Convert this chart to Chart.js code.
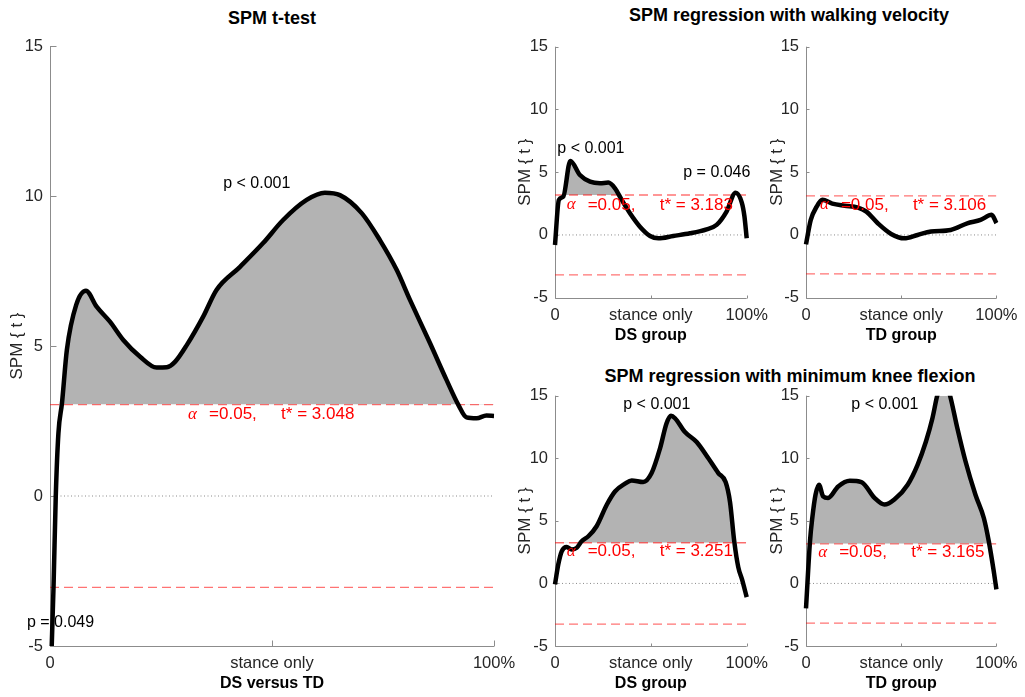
<!DOCTYPE html>
<html>
<head>
<meta charset="utf-8">
<script src="https://cdn.jsdelivr.net/npm/chart.js@4.4.1/dist/chart.umd.min.js"></script>
<style>
  html, body { margin: 0; background: #fff; }
  body { position: relative; width: 1025px; height: 697px; overflow: hidden; font-family: "Liberation Sans", Arial, sans-serif; }
  canvas { position: absolute; }
  .ttl { position: absolute; transform: translate(-50%, -50%); font-weight: bold; font-size: 18px; color: #000; white-space: nowrap; }
</style>
</head>
<body>
<div class="ttl" style="left:272px; top:18px">SPM t-test</div>
<div class="ttl" style="left:789px; top:15px">SPM regression with walking velocity</div>
<div class="ttl" style="left:790px; top:376px">SPM regression with minimum knee flexion</div>
<canvas id="ttest"></canvas>
<canvas id="dsVel"></canvas>
<canvas id="tdVel"></canvas>
<canvas id="dsKnee"></canvas>
<canvas id="tdKnee"></canvas>
<script>
// axis labels
const xTickLabels = ['0', 'stance only', '100%'];
const groupNames = ['DS versus TD', 'DS group', 'TD group', 'DS group', 'TD group'];
const alphaLevel = 0.05;
// critical t per panel
const tCrit = [3.048, 3.183, 3.106, 3.251, 3.165];
// cluster p-values per panel
const pValues = [['p < 0.001', 'p = 0.049'], ['p < 0.001', 'p = 0.046'], [], ['p < 0.001'], ['p < 0.001']];

// SPM{t} trajectories, x in % stance
const ttestX = [0.3, 0.8, 1.3, 1.9, 2.7, 3.8, 5.9, 8.1, 10.5, 13.5, 16.5, 20.3, 24.0, 26.3, 28.2, 30.8, 34.5, 37.5, 42.8, 48.0, 52.5, 57.8, 61.9, 65.3, 70.2, 74.3, 78.1, 81.1, 85.6, 89.3, 92.0, 93.8, 96.1, 98.3, 100];
const ttestT = [-5.4, -3.0, 0.0, 2.1, 3.1, 4.87, 6.37, 6.84, 6.31, 5.81, 5.2, 4.64, 4.28, 4.29, 4.48, 5.03, 5.98, 6.87, 7.64, 8.43, 9.2, 9.87, 10.11, 10.03, 9.43, 8.53, 7.53, 6.53, 5.09, 3.87, 3.03, 2.62, 2.59, 2.68, 2.67];

const dsVelX = [0, 2.0, 4.3, 8.0, 13.0, 18.3, 23.5, 27.8, 31.3, 34.8, 39.1, 44.3, 49.6, 53.9, 61.7, 70.4, 79.1, 84.3, 89.5, 94.2, 97.4, 98.8, 100];
const dsVelT = [-0.8, 2.79, 3.05, 5.9, 4.78, 4.25, 4.12, 4.17, 3.72, 2.79, 1.73, 0.66, -0.08, -0.27, -0.08, 0.13, 0.45, 0.8, 1.86, 3.37, 2.6, 1.5, -0.27];

const tdVelX = [0, 2.5, 5.6, 8.6, 13.8, 20.3, 27.3, 31.7, 37.7, 44.7, 51.6, 58.6, 65.6, 76.0, 84.7, 91.7, 97.5, 100];
const tdVelT = [-0.75, 1.2, 2.25, 2.8, 2.5, 2.33, 2.18, 1.86, 0.93, 0.08, -0.27, 0.0, 0.27, 0.4, 0.93, 1.2, 1.6, 0.95];

const dsKneeX = [0, 1.7, 3.5, 6.1, 8.7, 11.3, 13.9, 17.4, 21.7, 27.0, 31.3, 36.5, 40.0, 46.0, 50.4, 54.8, 58.2, 60.5, 62.6, 67.8, 73.9, 80.0, 85.2, 89.0, 91.3, 93.5, 95.6, 97.6, 100];
const dsKneeT = [-0.08, 1.51, 2.57, 2.92, 2.71, 2.84, 3.37, 3.77, 4.57, 6.29, 7.35, 7.97, 8.23, 8.1, 8.82, 10.8, 12.8, 13.4, 13.2, 12.1, 11.3, 10.0, 8.82, 8.1, 6.5, 3.37, 1.3, 0.3, -1.1];

const tdKneeX = [0, 2.1, 3.3, 5.0, 6.8, 9.0, 11.6, 16.9, 23.0, 29.1, 36.0, 41.2, 46.4, 53.4, 58.6, 63.0, 66.4, 69.0, 72.5, 76.0, 79.5, 83.8, 89.0, 93.4, 96.0, 98.6, 100];
const tdKneeT = [-2.0, 3.37, 5.23, 7.09, 7.89, 6.96, 6.83, 7.75, 8.2, 8.1, 6.83, 6.3, 6.7, 7.89, 9.48, 11.34, 13.2, 15.06, 16.6, 14.8, 12.4, 9.74, 7.09, 5.23, 3.37, 0.98, -0.48];

const sans = '"Liberation Sans", Arial, sans-serif';

// MATLAB-style box-off axes with inward ticks
const spmAxes = {
  id: 'spmAxes',
  beforeDatasetsDraw(chart, args, opts) {
    const { ctx, chartArea: a, scales: { x, y } } = chart;
    ctx.save();
    ctx.strokeStyle = '#8c8c8c';
    ctx.lineWidth = 1;
    ctx.beginPath();
    const l = Math.round(a.left) + 0.5, b = Math.round(a.bottom) + 0.5;
    ctx.moveTo(l, a.top);
    ctx.lineTo(l, b);
    ctx.lineTo(a.right, b);
    y.ticks.forEach(t => {
      const py = Math.round(y.getPixelForValue(t.value)) + 0.5;
      ctx.moveTo(l, py); ctx.lineTo(l + opts.len, py);
    });
    x.ticks.forEach(t => {
      const px = Math.round(x.getPixelForValue(t.value)) + 0.5;
      ctx.moveTo(px, b); ctx.lineTo(px, b - opts.len);
    });
    ctx.stroke();
    ctx.restore();
  }
};

// p-values and threshold text
const spmNotes = {
  id: 'spmNotes',
  afterDatasetsDraw(chart, args, opts) {
    const { ctx, scales: { x, y } } = chart;
    ctx.save();
    ctx.textAlign = 'left';
    ctx.textBaseline = 'middle';
    ctx.fillStyle = '#000';
    ctx.font = '16px ' + sans;
    opts.p.forEach(n => ctx.fillText(n.text, x.getPixelForValue(n.at[0]), y.getPixelForValue(n.at[1])));
    const ax = x.getPixelForValue(opts.alpha[0]);
    const ay = y.getPixelForValue(opts.alpha[1]);
    ctx.fillStyle = '#ff0000';
    ctx.font = 'italic 17px "Liberation Serif", serif';
    ctx.fillText('\u03B1', ax, ay);
    ctx.font = '17px ' + sans;
    ctx.fillText('=' + alphaLevel.toFixed(2) + ',', ax + 21, ay);
    ctx.fillText('t* = ' + opts.t.toFixed(3), ax + 93, ay);
    ctx.restore();
  }
};

const panels = [
  { id: 'ttest', box: [0, 0, 525, 697], area: [50, 46, 494, 646], xs: ttestX, ts: ttestT, tick: 6, ytPad: 7.5, xtPad: 3.4,
    pAt: [[39, 10.43], [-5.2, -4.23]], alpha: [31.1, 2.73] },
  { id: 'dsVel', box: [500, 0, 280, 350], area: [555, 46.7, 746.7, 297.7], xs: dsVelX, ts: dsVelT, tick: 3, ytPad: 15, xtPad: 4.4,
    pAt: [[1.2, 6.9], [66.9, 4.97]], alpha: [6.1, 2.39] },
  { id: 'tdVel', box: [751, 0, 274, 350], area: [806, 46.7, 997.7, 297.7], xs: tdVelX, ts: tdVelT, tick: 3, ytPad: 16, xtPad: 4.4,
    pAt: [], alpha: [7.3, 2.39] },
  { id: 'dsKnee', box: [500, 350, 280, 347], area: [555, 395.7, 746.7, 646], xs: dsKneeX, ts: dsKneeT, tick: 3, ytPad: 15, xtPad: 3.4,
    pAt: [[35.6, 14.26]], alpha: [6.1, 2.57] },
  { id: 'tdKnee', box: [751, 350, 274, 347], area: [806, 395.7, 997.7, 646], xs: tdKneeX, ts: tdKneeT, tick: 3, ytPad: 16, xtPad: 3.4,
    pAt: [[23.8, 14.26]], alpha: [6.4, 2.5] }
];

function refLine(yv, color, dash, width) {
  return {
    data: [{ x: 0, y: yv }, { x: 100, y: yv }],
    borderColor: color, borderWidth: width, borderDash: dash,
    pointRadius: 0, fill: false, order: 1
  };
}

panels.forEach((p, i) => {
  const cv = document.getElementById(p.id);
  const [bx, by, bw, bh] = p.box;
  const [L, T, R, B] = p.area;
  cv.width = bw; cv.height = bh;
  cv.style.left = bx + 'px';
  cv.style.top = by + 'px';
  const thr = tCrit[i];
  const yW = L - bx;
  const xH = by + bh - B;

  new Chart(cv, {
    type: 'line',
    data: {
      datasets: [
        {
          data: p.xs.map((x, k) => ({ x: x, y: p.ts[k] })),
          borderColor: '#000', borderWidth: 4.5, pointRadius: 0,
          cubicInterpolationMode: 'monotone',
          fill: { target: { value: thr }, above: '#b3b3b3', below: 'rgba(0,0,0,0)' },
          clip: { left: 3, right: 3, top: 0, bottom: 0 },
          order: 0
        },
        refLine(thr, 'rgba(255,0,0,0.55)', [9, 5], 1.3),
        refLine(-thr, 'rgba(255,0,0,0.55)', [9, 5], 1.3),
        refLine(0, '#8a8a8a', [1, 2.5], 1)
      ]
    },
    options: {
      responsive: false,
      animation: false,
      events: [],
      layout: { padding: { left: 0, top: T - by, right: bx + bw - R, bottom: 0 } },
      plugins: {
        legend: { display: false },
        tooltip: { enabled: false },
        filler: { drawTime: 'beforeDatasetsDraw' },
        spmAxes: { len: p.tick },
        spmNotes: {
          p: pValues[i].map((txt, k) => ({ text: txt, at: p.pAt[k] })),
          alpha: p.alpha,
          t: thr
        }
      },
      scales: {
        x: {
          type: 'linear', min: 0, max: 100,
          grid: { display: false, drawTicks: false },
          border: { display: false },
          ticks: {
            stepSize: 50, autoSkip: false, maxRotation: 0, padding: 7.5,
            color: '#262626', font: { family: sans, size: 16.5 },
            callback: v => xTickLabels[Math.round(v / 50)]
          },
          title: {
            display: true, text: groupNames[i], color: '#000',
            font: { family: sans, size: 16, weight: 'bold' },
            padding: { top: 0, bottom: p.xtPad }
          },
          afterFit: s => { s.height = xH; }
        },
        y: {
          min: -5, max: 15,
          grid: { display: false, drawTicks: false },
          border: { display: false },
          ticks: {
            stepSize: 5, padding: 7,
            color: '#262626', font: { family: sans, size: 16.5 }
          },
          title: {
            display: true, text: 'SPM { t }', color: '#262626',
            font: { family: sans, size: 17 },
            padding: { top: p.ytPad, bottom: 0 }
          },
          afterFit: s => { s.width = yW; }
        }
      }
    },
    plugins: [spmAxes, spmNotes]
  });
});
</script>
</body>
</html>
